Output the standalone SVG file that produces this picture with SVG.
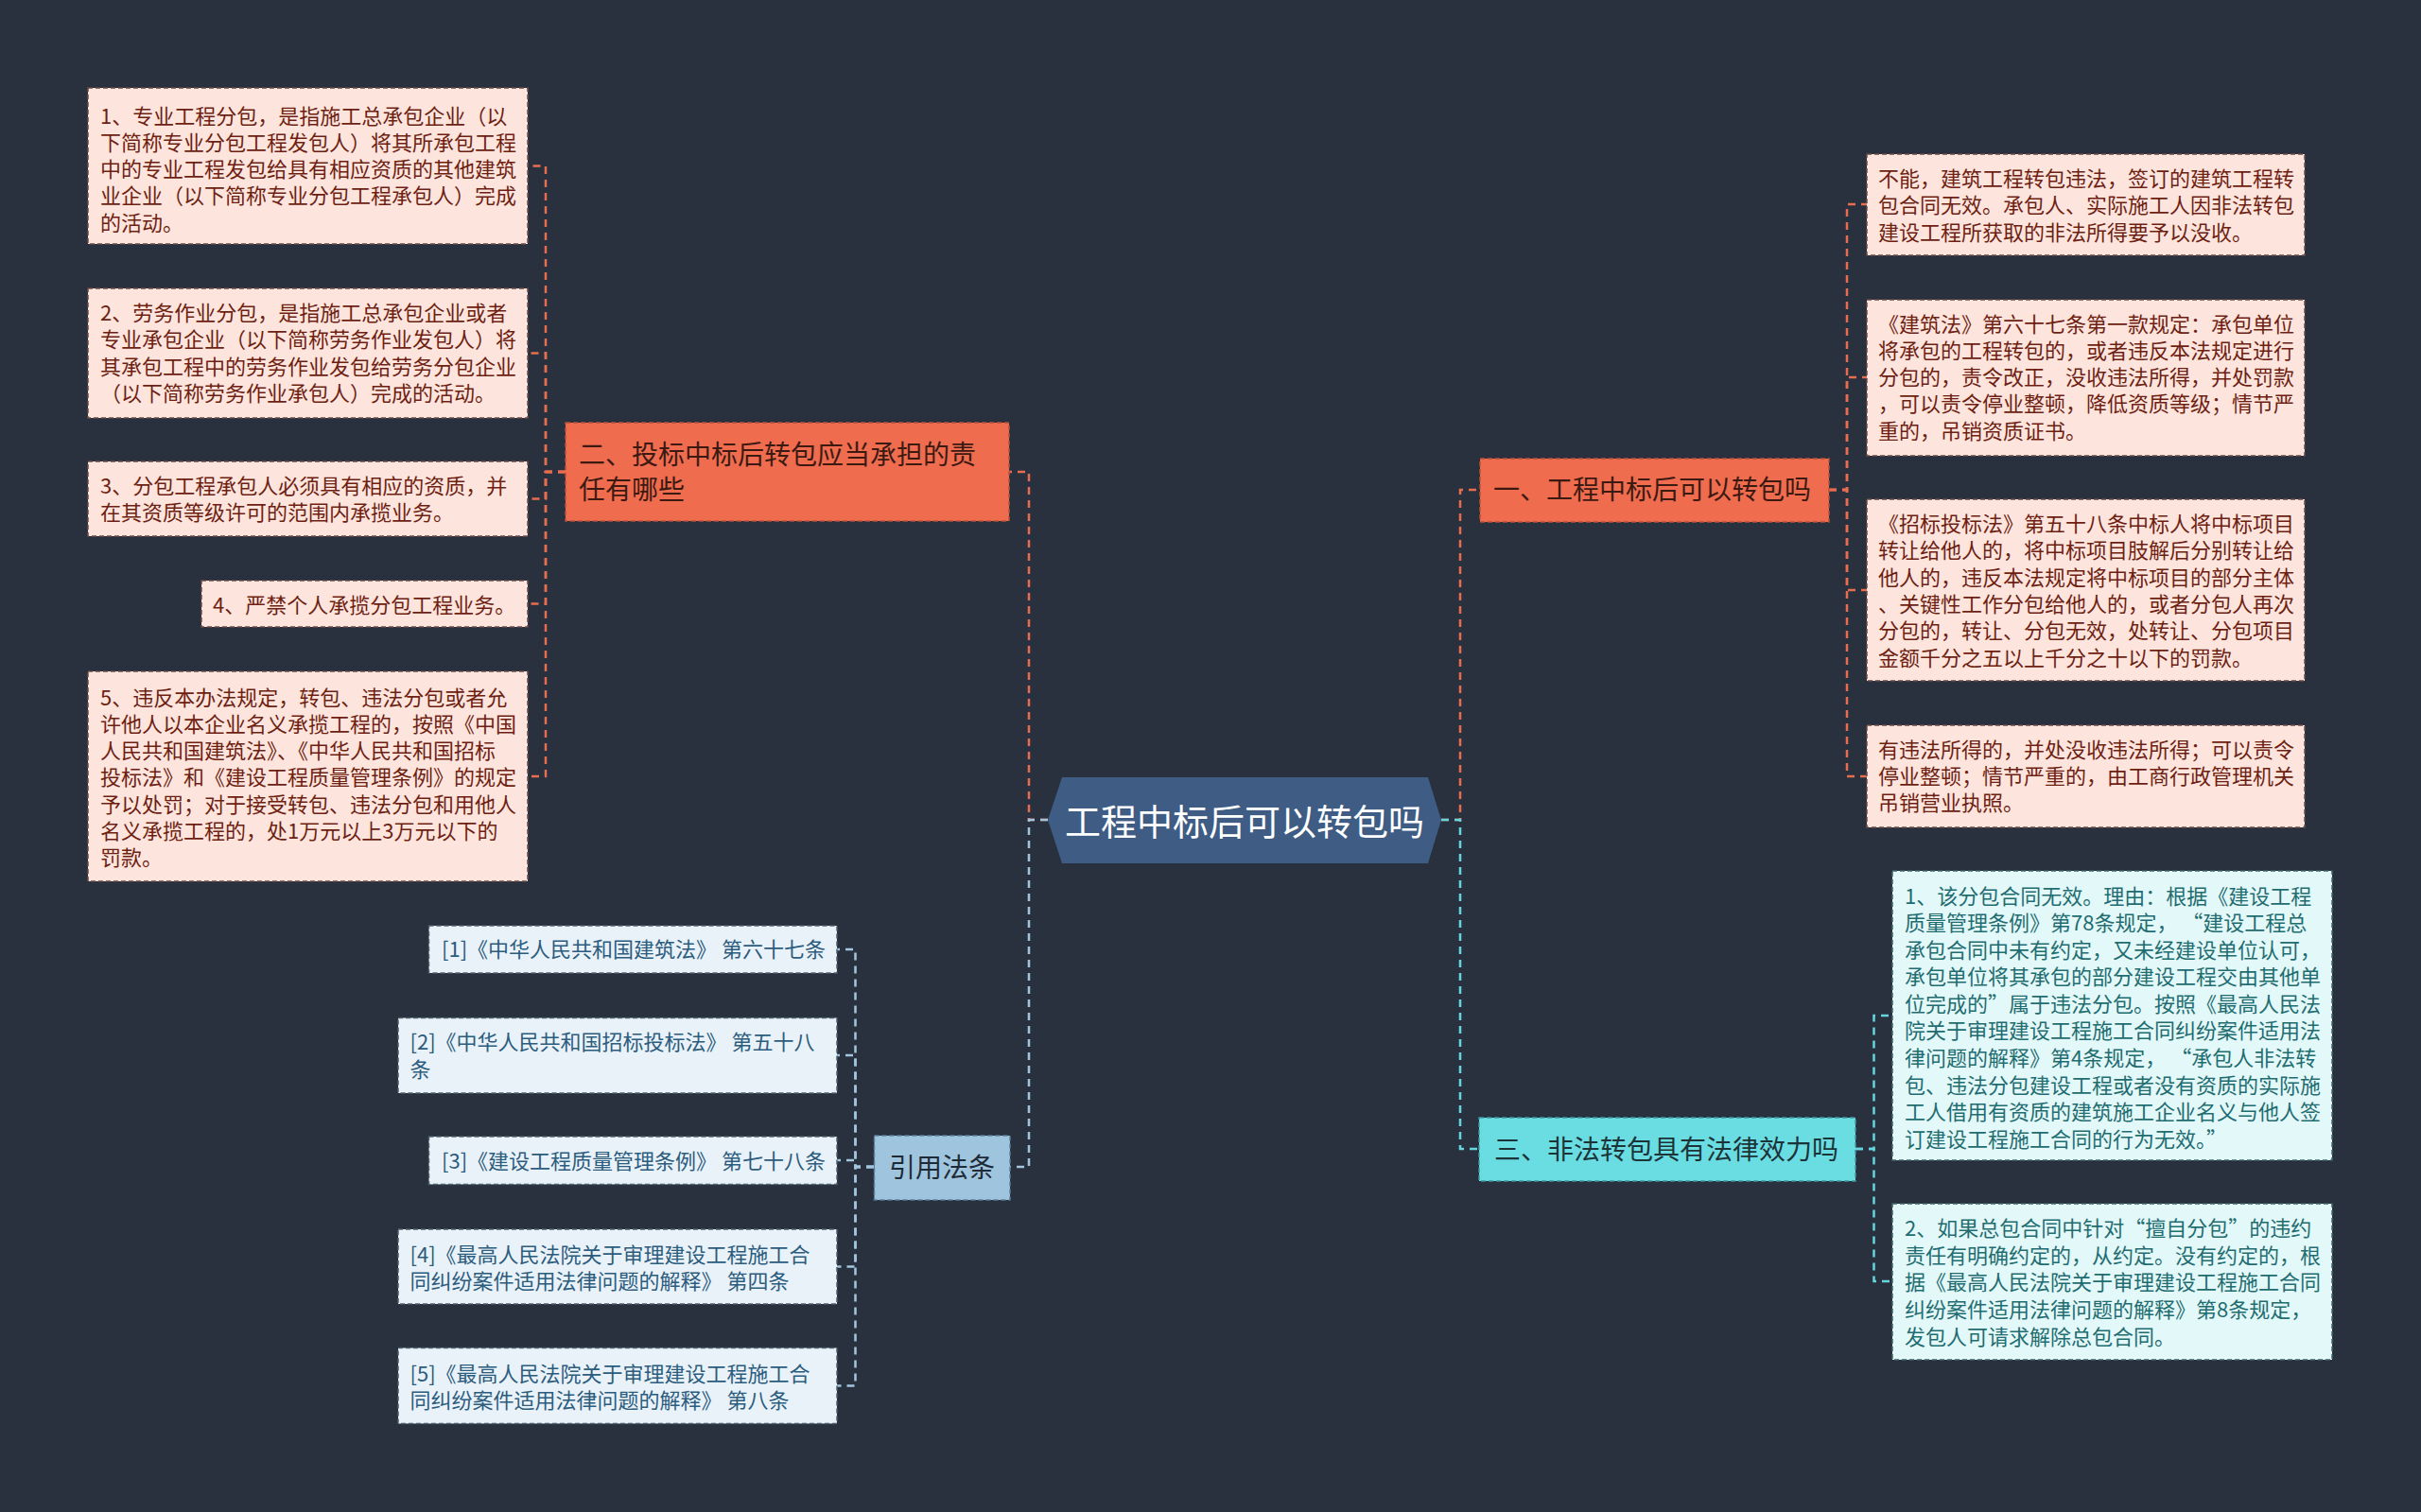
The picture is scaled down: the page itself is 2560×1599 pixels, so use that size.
<svg xmlns="http://www.w3.org/2000/svg" width="2560" height="1599" viewBox="0 0 2560 1599">
<style>
text{font-family:"Noto Sans CJK SC","Noto Sans",sans-serif;dominant-baseline:central;transform:translate(0px,-2px)}
.leafP rect{fill:#fde5de;stroke:#6b4a44;stroke-width:1.5;stroke-dasharray:5 3}
.leafP text{fill:#6e1f12;font-size:22px}
.leafC rect{fill:#e3f8f9;stroke:#3f6468;stroke-width:1.5;stroke-dasharray:5 3}
.leafC text{fill:#1f6d70;font-size:22px}
.leafB rect{fill:#e9f2f8;stroke:#4d5f6c;stroke-width:1.5;stroke-dasharray:5 3}
.leafB text{fill:#2c5c7e;font-size:22px}
.nodeO rect{fill:#ef6c4f;stroke:#b8503a;stroke-width:1.5;stroke-dasharray:5 3}
.nodeO text{fill:#3c1a12;font-size:28px}
.nodeC rect{fill:#6adde3;stroke:#3d9aa1;stroke-width:1.5;stroke-dasharray:5 3}
.nodeC text{fill:#1c3438;font-size:28px}
.nodeB rect{fill:#9fc5de;stroke:#5e7f96;stroke-width:1.5;stroke-dasharray:5 3}
.nodeB text{fill:#1e2b36;font-size:28px}
.con path{fill:none;stroke-width:2.5;stroke-dasharray:8 6}
.o{stroke:#e86d4f}
.b{stroke:#a3c6de}
.c{stroke:#66d6de}
</style>
<rect x="0" y="0" width="2560" height="1599" fill="#29303e"/>

<g id="connectors" class="con">
<path class="o" d="M1108,867 H1088 V499 H1067"/>
<path class="b" d="M1108,867 H1088 V1234 H1068"/>
<path class="o" d="M1524,867 H1544 V518 H1565"/>
<path class="c" d="M1524,867 H1544 V1215 H1564"/>
<path class="o" d="M598,499 H577 V175.5 H558"/>
<path class="o" d="M598,499 H577 V373.5 H558"/>
<path class="o" d="M598,499 H577 V527.5 H558"/>
<path class="o" d="M598,499 H577 V638.5 H558"/>
<path class="o" d="M598,499 H577 V821 H558"/>
<path class="b" d="M924,1234 H904.5 V1004 H885"/>
<path class="b" d="M924,1234 H904.5 V1116 H885"/>
<path class="b" d="M924,1234 H904.5 V1227 H885"/>
<path class="b" d="M924,1234 H904.5 V1339.5 H885"/>
<path class="b" d="M924,1234 H904.5 V1465.5 H885"/>
<path class="o" d="M1934,518 H1953 V216 H1974"/>
<path class="o" d="M1934,518 H1953 V399 H1974"/>
<path class="o" d="M1934,518 H1953 V624 H1974"/>
<path class="o" d="M1934,518 H1953 V821 H1974"/>
<path class="c" d="M1962,1215 H1981.5 V1074 H2001"/>
<path class="c" d="M1962,1215 H1981.5 V1355 H2001"/>
</g>

<g id="root">
<polygon points="1123,822 1510,822 1524,867 1510,913 1123,913 1108,867" fill="#3e5c84"/>
<text x="1316" y="868" text-anchor="middle" fill="#ffffff" font-size="38">工程中标后可以转包吗</text>
</g>

<g id="n2" class="nodeO">
<rect x="598" y="447" width="469" height="104"/>
<text x="612"><tspan x="612" y="481">二、投标中标后转包应当承担的责</tspan><tspan x="612" y="518">任有哪些</tspan></text>
</g>

<g id="n1" class="nodeO">
<rect x="1565" y="485" width="369" height="67"/>
<text x="1579" y="518">一、工程中标后可以转包吗</text>
</g>

<g id="n3" class="nodeC">
<rect x="1564" y="1182" width="398" height="67"/>
<text x="1580" y="1216">三、非法转包具有法律效力吗</text>
</g>

<g id="nref" class="nodeB">
<rect x="924.5" y="1201" width="143.5" height="68"/>
<text x="996" y="1235" text-anchor="middle">引用法条</text>
</g>

<g id="l1" class="leafP">
<rect x="93" y="93" width="465" height="165"/>
<text><tspan x="106" y="122.5">1、专业工程分包，是指施工总承包企业（以</tspan><tspan x="106" y="150.8">下简称专业分包工程发包人）将其所承包工程</tspan><tspan x="106" y="179.1">中的专业工程发包给具有相应资质的其他建筑</tspan><tspan x="106" y="207.4">业企业（以下简称专业分包工程承包人）完成</tspan><tspan x="106" y="235.7">的活动。</tspan></text>
</g>

<g id="l2" class="leafP">
<rect x="93" y="305" width="465" height="137"/>
<text><tspan x="106" y="331">2、劳务作业分包，是指施工总承包企业或者</tspan><tspan x="106" y="359.3">专业承包企业（以下简称劳务作业发包人）将</tspan><tspan x="106" y="387.6">其承包工程中的劳务作业发包给劳务分包企业</tspan><tspan x="106" y="415.9">（以下简称劳务作业承包人）完成的活动。</tspan></text>
</g>

<g id="l3" class="leafP">
<rect x="93" y="488" width="465" height="79"/>
<text><tspan x="106" y="514">3、分包工程承包人必须具有相应的资质，并</tspan><tspan x="106" y="542.3">在其资质等级许可的范围内承揽业务。</tspan></text>
</g>

<g id="l4" class="leafP">
<rect x="213" y="614" width="345" height="49"/>
<text x="225" y="640">4、严禁个人承揽分包工程业务。</text>
</g>

<g id="l5" class="leafP">
<rect x="93" y="710" width="465" height="222"/>
<text><tspan x="106" y="737.5">5、违反本办法规定，转包、违法分包或者允</tspan><tspan x="106" y="765.8">许他人以本企业名义承揽工程的，按照《中国</tspan><tspan x="106" y="794.1">人民共和国建筑法》、《中华人民共和国招标</tspan><tspan x="106" y="822.4">投标法》和《建设工程质量管理条例》的规定</tspan><tspan x="106" y="850.7">予以处罚；对于接受转包、违法分包和用他人</tspan><tspan x="106" y="879">名义承揽工程的，处1万元以上3万元以下的</tspan><tspan x="106" y="907.3">罚款。</tspan></text>
</g>

<g id="r1" class="leafP">
<rect x="1974" y="163" width="463" height="107"/>
<text><tspan x="1986" y="189">不能，建筑工程转包违法，签订的建筑工程转</tspan><tspan x="1986" y="217.3">包合同无效。承包人、实际施工人因非法转包</tspan><tspan x="1986" y="245.6">建设工程所获取的非法所得要予以没收。</tspan></text>
</g>

<g id="r2" class="leafP">
<rect x="1974" y="317" width="463" height="165"/>
<text><tspan x="1986" y="342.5">《建筑法》第六十七条第一款规定：承包单位</tspan><tspan x="1986" y="370.8">将承包的工程转包的，或者违反本法规定进行</tspan><tspan x="1986" y="399.1">分包的，责令改正，没收违法所得，并处罚款</tspan><tspan x="1986" y="427.4">，可以责令停业整顿，降低资质等级；情节严</tspan><tspan x="1986" y="455.7">重的，吊销资质证书。</tspan></text>
</g>

<g id="r3" class="leafP">
<rect x="1974" y="528" width="463" height="192"/>
<text><tspan x="1986" y="554">《招标投标法》第五十八条中标人将中标项目</tspan><tspan x="1986" y="582.3">转让给他人的，将中标项目肢解后分别转让给</tspan><tspan x="1986" y="610.6">他人的，违反本法规定将中标项目的部分主体</tspan><tspan x="1986" y="638.9">、关键性工作分包给他人的，或者分包人再次</tspan><tspan x="1986" y="667.2">分包的，转让、分包无效，处转让、分包项目</tspan><tspan x="1986" y="695.5">金额千分之五以上千分之十以下的罚款。</tspan></text>
</g>

<g id="r4" class="leafP">
<rect x="1974" y="767" width="463" height="108"/>
<text><tspan x="1986" y="792.5">有违法所得的，并处没收违法所得；可以责令</tspan><tspan x="1986" y="820.8">停业整顿；情节严重的，由工商行政管理机关</tspan><tspan x="1986" y="849.1">吊销营业执照。</tspan></text>
</g>

<g id="c1" class="leafC">
<rect x="2001" y="921" width="465" height="306"/>
<text><tspan x="2014" y="947.5">1、该分包合同无效。理由：根据《建设工程</tspan><tspan x="2014" y="976.1">质量管理条例》第78条规定， “建设工程总</tspan><tspan x="2014" y="1004.6">承包合同中未有约定，又未经建设单位认可，</tspan><tspan x="2014" y="1033.2">承包单位将其承包的部分建设工程交由其他单</tspan><tspan x="2014" y="1061.8">位完成的”属于违法分包。按照《最高人民法</tspan><tspan x="2014" y="1090.4">院关于审理建设工程施工合同纠纷案件适用法</tspan><tspan x="2014" y="1118.9">律问题的解释》第4条规定， “承包人非法转</tspan><tspan x="2014" y="1147.5">包、违法分包建设工程或者没有资质的实际施</tspan><tspan x="2014" y="1176.1">工人借用有资质的建筑施工企业名义与他人签</tspan><tspan x="2014" y="1204.6">订建设工程施工合同的行为无效。”</tspan></text>
</g>

<g id="c2" class="leafC">
<rect x="2001" y="1273" width="465" height="165"/>
<text><tspan x="2014" y="1299.3">2、如果总包合同中针对“擅自分包”的违约</tspan><tspan x="2014" y="1327.9">责任有明确约定的，从约定。没有约定的，根</tspan><tspan x="2014" y="1356.4">据《最高人民法院关于审理建设工程施工合同</tspan><tspan x="2014" y="1385">纠纷案件适用法律问题的解释》第8条规定，</tspan><tspan x="2014" y="1413.6">发包人可请求解除总包合同。</tspan></text>
</g>

<g id="ref1" class="leafB">
<rect x="453.5" y="979" width="431.5" height="50"/>
<text x="467" y="1004">[1]《中华人民共和国建筑法》 第六十七条</text>
</g>

<g id="ref2" class="leafB">
<rect x="421" y="1076.5" width="464" height="79.5"/>
<text><tspan x="433.5" y="1102">[2]《中华人民共和国招标投标法》 第五十八</tspan><tspan x="433.5" y="1131">条</tspan></text>
</g>

<g id="ref3" class="leafB">
<rect x="453.5" y="1202" width="431.5" height="50.5"/>
<text x="467" y="1228">[3]《建设工程质量管理条例》 第七十八条</text>
</g>

<g id="ref4" class="leafB">
<rect x="421" y="1300" width="464" height="79"/>
<text><tspan x="433.5" y="1326.5">[4]《最高人民法院关于审理建设工程施工合</tspan><tspan x="433.5" y="1355">同纠纷案件适用法律问题的解释》 第四条</tspan></text>
</g>

<g id="ref5" class="leafB">
<rect x="421" y="1425.5" width="464" height="80"/>
<text><tspan x="433.5" y="1452.5">[5]《最高人民法院关于审理建设工程施工合</tspan><tspan x="433.5" y="1481">同纠纷案件适用法律问题的解释》 第八条</tspan></text>
</g>
</svg>
